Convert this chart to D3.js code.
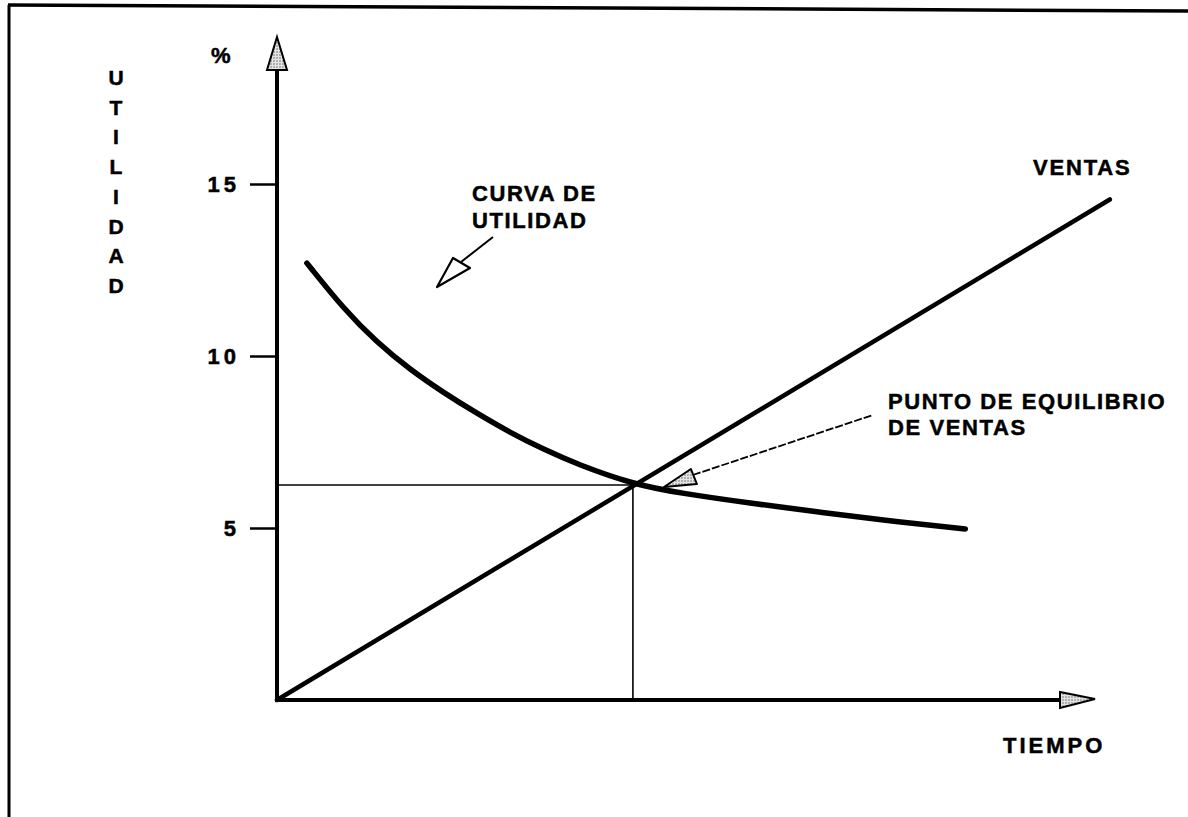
<!DOCTYPE html>
<html>
<head>
<meta charset="utf-8">
<script src="https://cdn.jsdelivr.net/npm/d3@7/dist/d3.min.js"></script>
<style>
  body { margin: 0; background: #fff; }
  svg text {
    font-family: "Liberation Sans", Arial, sans-serif;
    font-weight: bold;
    font-size: 22px;
    letter-spacing: 1.6px;
    fill: #000;
    stroke: #000;
    stroke-width: 0.5px;
  }
</style>
</head>
<body>
<svg id="chart" width="1188" height="817"></svg>
<script>
// curva de utilidad (tiempo, %)
var curvaTiempo = [0.42, 0.94, 1.40, 1.87, 2.35, 2.81, 3.27, 3.75, 4.21, 5.0, 5.70, 6.65, 7.59, 8.51, 9.67];
var curvaUtilidad = [12.70, 11.36, 10.40, 9.60, 8.92, 8.33, 7.78, 7.28, 6.86, 6.27, 6.00, 5.72, 5.47, 5.23, 4.97];

// recta de ventas
var ventasTiempo = [0, 11.7];
var ventasValor = [0, 14.55];

// punto de equilibrio
var equilibrioTiempo = 5;
var equilibrioValor = 6.25;

var yTicks = [5, 10, 15];
var ejeLetras = ["U", "T", "I", "L", "I", "D", "A", "D"];

var svg = d3.select("#chart");

//scales
var x = d3.scaleLinear().domain([0, 11]).range([277, 1060]);
var y = d3.scaleLinear().domain([0, 15]).range([700, 184]);

// trama punteada para las flechas
var defs = svg.append("defs");
var pat = defs.append("pattern")
  .attr("id", "trama")
  .attr("width", 3)
  .attr("height", 3)
  .attr("patternUnits", "userSpaceOnUse");
pat.append("rect").attr("width", 3).attr("height", 3).attr("fill", "#e4e4e4");
pat.append("circle").attr("cx", 1).attr("cy", 1).attr("r", 0.7).attr("fill", "#555");

// marco
svg.append("path")
  .attr("d", "M8,5 L1188,11")
  .attr("stroke", "#000")
  .attr("stroke-width", 3.5)
  .attr("fill", "none");
svg.append("path")
  .attr("d", "M9,5 L9,817")
  .attr("stroke", "#000")
  .attr("stroke-width", 3)
  .attr("fill", "none");

// ticks del eje y
var yAxis = d3.axisLeft(y).tickValues(yTicks).tickSize(27).tickPadding(10);
var gy = svg.append("g")
  .attr("transform", "translate(" + x(0) + ",0)")
  .call(yAxis);
gy.select(".domain").remove();
gy.selectAll(".tick line").attr("stroke", "#000").attr("stroke-width", 2.5);
gy.selectAll(".tick text")
  .attr("font-family", null)
  .attr("font-size", null)
  .attr("fill", "#000")
  .style("letter-spacing", "4px");

// lineas de referencia del punto de equilibrio
svg.append("line")
  .attr("x1", x(0)).attr("x2", x(equilibrioTiempo))
  .attr("y1", y(equilibrioValor)).attr("y2", y(equilibrioValor))
  .attr("stroke", "#000").attr("stroke-width", 1.6);
svg.append("line")
  .attr("x1", x(equilibrioTiempo)).attr("x2", x(equilibrioTiempo))
  .attr("y1", y(equilibrioValor)).attr("y2", y(0))
  .attr("stroke", "#000").attr("stroke-width", 1.6);

// ejes
svg.append("line")
  .attr("x1", x(0)).attr("x2", x(0))
  .attr("y1", y(0) + 2).attr("y2", 68)
  .attr("stroke", "#000").attr("stroke-width", 4);
svg.append("line")
  .attr("x1", x(0) - 2).attr("x2", x(11) + 2)
  .attr("y1", y(0)).attr("y2", y(0))
  .attr("stroke", "#000").attr("stroke-width", 4);

// flecha eje y
svg.append("path")
  .attr("d", "M" + x(0) + ",37 L" + (x(0) + 10) + ",70 L" + (x(0) - 10) + ",70 Z")
  .attr("fill", "url(#trama)")
  .attr("stroke", "#000")
  .attr("stroke-width", 2);

// flecha eje x
svg.append("path")
  .attr("d", "M1095," + (y(0) - 1) + " L" + x(11) + "," + (y(0) - 8) + " L" + x(11) + "," + (y(0) + 8) + " Z")
  .attr("fill", "url(#trama)")
  .attr("stroke", "#000")
  .attr("stroke-width", 2);

// ventas
var line = d3.line()
  .x(function (d) { return x(d[0]); })
  .y(function (d) { return y(d[1]); });

svg.append("path")
  .datum(d3.zip(ventasTiempo, ventasValor))
  .attr("d", line)
  .attr("fill", "none")
  .attr("stroke", "#000")
  .attr("stroke-width", 4.5)
  .attr("stroke-linecap", "round");

// curva de utilidad
svg.append("path")
  .datum(d3.zip(curvaTiempo, curvaUtilidad))
  .attr("d", line.curve(d3.curveBasis))
  .attr("fill", "none")
  .attr("stroke", "#000")
  .attr("stroke-width", 5.5)
  .attr("stroke-linecap", "round");

// flecha curva de utilidad (hueca)
svg.append("line")
  .attr("x1", 493).attr("y1", 237)
  .attr("x2", 461).attr("y2", 262)
  .attr("stroke", "#000").attr("stroke-width", 2);
svg.append("path")
  .attr("d", "M437,287 L453,258 L470,268 Z")
  .attr("fill", "#fff")
  .attr("stroke", "#000")
  .attr("stroke-width", 2.2)
  .attr("stroke-linejoin", "round");

// flecha punto de equilibrio
var ex = x(equilibrioTiempo), ey = y(equilibrioValor);
svg.append("line")
  .attr("x1", ex + 60).attr("y1", ey - 10)
  .attr("x2", ex + 240).attr("y2", ey - 70)
  .attr("stroke", "#000").attr("stroke-width", 1.8)
  .attr("stroke-dasharray", "8,2");
svg.append("path")
  .attr("d", "M" + (ex + 31) + "," + (ey + 2) + " L" + (ex + 58) + "," + (ey - 16) + " L" + (ex + 64) + "," + (ey - 1) + " Z")
  .attr("fill", "url(#trama)")
  .attr("stroke", "#000")
  .attr("stroke-width", 2)
  .attr("stroke-linejoin", "round");

// textos
svg.append("text").attr("x", 211).attr("y", 63).text("%");

svg.selectAll("text.eje")
  .data(ejeLetras)
  .enter()
  .append("text")
  .attr("class", "eje")
  .attr("x", 116)
  .attr("y", function (d, i) { return 85 + i * 29.7; })
  .attr("text-anchor", "middle")
  .style("font-size", "21px")
  .style("letter-spacing", "0px")
  .text(function (d) { return d; });

svg.append("text").attr("x", 1033).attr("y", 175).style("letter-spacing", "1.8px").text("VENTAS");
svg.append("text").attr("x", 472).attr("y", 201).text("CURVA DE");
svg.append("text").attr("x", 472).attr("y", 228).text("UTILIDAD");
svg.append("text").attr("x", 888).attr("y", 409).text("PUNTO DE EQUILIBRIO");
svg.append("text").attr("x", 888).attr("y", 435).text("DE VENTAS");
svg.append("text").attr("x", 1003).attr("y", 753).style("letter-spacing", "3px").text("TIEMPO");
</script>
</body>
</html>
